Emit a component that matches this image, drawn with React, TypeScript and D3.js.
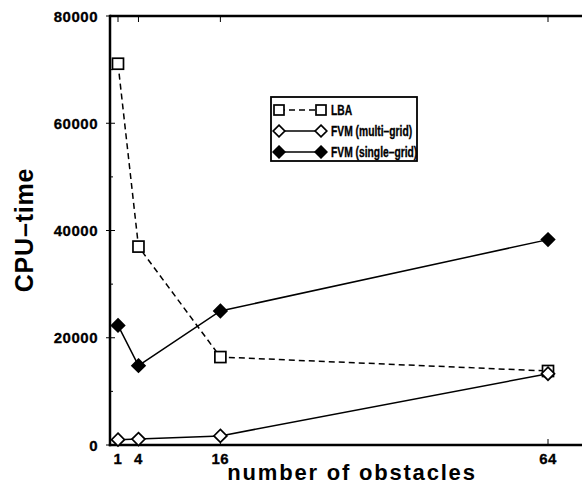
import React from "react";
import * as d3 from "d3";

const obstacles = [1, 4, 16, 64];
const lba = [71100, 37000, 16400, 13800];
const fvmMulti = [1000, 1100, 1700, 13300];
const fvmSingle = [22300, 14800, 25000, 38300];
const yTicks = [0, 20000, 40000, 60000, 80000];
const yMinor = [10000, 30000, 50000, 70000];
const legendLabels = ["LBA", "FVM (multi–grid)", "FVM (single–grid)"];

const W = 582, H = 490;
const left = 110, top = 16, bottom = 445;

export default function App() {
  const x = d3.scaleLinear().domain([1, 64]).range([118, 548]);
  const y = d3.scaleLinear().domain([0, 80000]).range([bottom, top]);
  const line = d3
    .line<[number, number]>()
    .x((d) => x(d[0]))
    .y((d) => y(d[1]));
  const pts = (vals: number[]) => obstacles.map((o, i) => [o, vals[i]] as [number, number]);
  const font = "'Liberation Sans', Arial, Helvetica, sans-serif";

  const square = (cx: number, cy: number, k: string, s = 5.5) => (
    <rect key={k} x={cx - s} y={cy - s} width={2 * s} height={2 * s} fill="white" stroke="black" strokeWidth={1.7} />
  );
  const diamond = (cx: number, cy: number, filled: boolean, k: string, s = 6.5) => (
    <path
      key={k}
      d={`M${cx},${cy - s}L${cx + s},${cy}L${cx},${cy + s}L${cx - s},${cy}Z`}
      fill={filled ? "black" : "white"}
      stroke="black"
      strokeWidth={1.7}
    />
  );

  const series = [
    { vals: lba, dash: "6,4" },
    { vals: fvmMulti, dash: "" },
    { vals: fvmSingle, dash: "" },
  ];
  const marker = (i: number, cx: number, cy: number, k: string, small = false) =>
    i === 0 ? square(cx, cy, k, small ? 5 : 5.5) : diamond(cx, cy, i === 2, k, small ? 5.8 : 6.5);

  const lgX = 271, lgY = 97, lgW = 146, lgH = 64;
  const rowY = [110, 131, 152];

  return (
    <svg width={W} height={H} style={{ position: "absolute", left: 0, top: 0, background: "white" }}>
      <rect x={0} y={0} width={W} height={H} fill="white" />
      {/* frame */}
      <line x1={left} x2={W} y1={top} y2={top} stroke="black" strokeWidth={2.5} />
      <line x1={left - 1.2} x2={W} y1={bottom} y2={bottom} stroke="black" strokeWidth={2.5} />
      <line x1={left} x2={left} y1={top - 1.2} y2={bottom + 1.2} stroke="black" strokeWidth={2.5} />
      {/* y ticks */}
      {yTicks.map((t) => (
        <g key={"yt" + t}>
          <line x1={left - 4} x2={left + 5} y1={y(t)} y2={y(t)} stroke="black" strokeWidth={1} />
          <text
            x={98}
            y={y(t) + 5.5}
            textAnchor="end"
            fontFamily={font}
            fontWeight="bold"
            fontSize={15}
            letterSpacing={0.5}
            stroke="black"
            strokeWidth={0.3}
          >
            {t}
          </text>
        </g>
      ))}
      {yMinor.map((t) => (
        <line key={"ym" + t} x1={left} x2={left + 3} y1={y(t)} y2={y(t)} stroke="black" strokeWidth={1} />
      ))}
      {/* x ticks */}
      {obstacles.map((o) => (
        <g key={"xt" + o}>
          <line x1={x(o)} x2={x(o)} y1={bottom} y2={bottom - 6} stroke="black" strokeWidth={1} />
          <line x1={x(o)} x2={x(o)} y1={top} y2={top + 6} stroke="black" strokeWidth={1} />
          <text
            x={x(o)}
            y={464}
            textAnchor="middle"
            fontFamily={font}
            fontWeight="bold"
            fontSize={15}
            letterSpacing={0.5}
            stroke="black"
            strokeWidth={0.3}
          >
            {o}
          </text>
        </g>
      ))}
      {/* series */}
      {series.map((s, i) => (
        <g key={"s" + i}>
          <path
            d={line(pts(s.vals)) || ""}
            fill="none"
            stroke="black"
            strokeWidth={1.5}
            strokeDasharray={s.dash || undefined}
          />
          {pts(s.vals).map((p, j) => marker(i, x(p[0]), y(p[1]), `m${i}-${j}`))}
        </g>
      ))}
      {/* legend */}
      <rect x={lgX} y={lgY} width={lgW} height={lgH} fill="white" stroke="black" strokeWidth={1.8} />
      {series.map((s, i) => (
        <g key={"lg" + i}>
          <line
            x1={279}
            x2={321}
            y1={rowY[i]}
            y2={rowY[i]}
            stroke="black"
            strokeWidth={1.5}
            strokeDasharray={s.dash || undefined}
          />
          {marker(i, 279, rowY[i], "la" + i, true)}
          {marker(i, 321, rowY[i], "lb" + i, true)}
          <text
            transform={`translate(331,${rowY[i] + 5}) scale(0.71,1)`}
            fontFamily={font}
            fontWeight="bold"
            fontSize={14.5}
            stroke="black"
            strokeWidth={0.35}
          >
            {legendLabels[i]}
          </text>
        </g>
      ))}
      {/* axis titles */}
      <text
        transform={`translate(33,230) rotate(-90)`}
        textAnchor="middle"
        fontFamily={font}
        fontWeight="bold"
        fontSize={25}
        letterSpacing={0.8}
      >
        CPU–time
      </text>
      <text x={352} y={480} textAnchor="middle" fontFamily={font} fontWeight="bold" fontSize={22} letterSpacing={1.8}>
        number of obstacles
      </text>
    </svg>
  );
}
